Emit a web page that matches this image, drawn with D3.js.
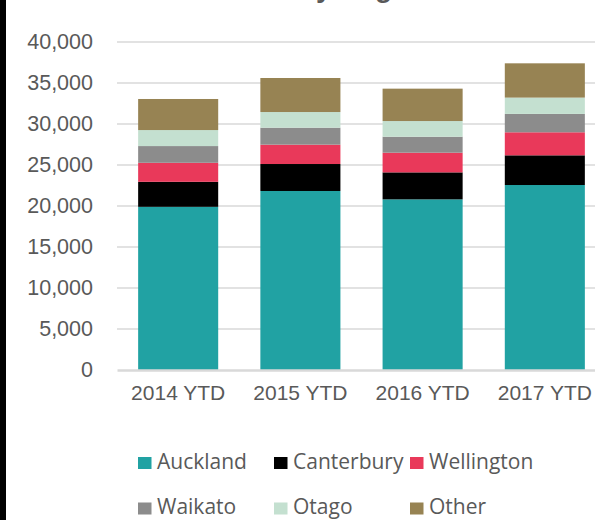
<!DOCTYPE html>
<html>
<head>
<meta charset="utf-8">
<script src="https://cdn.jsdelivr.net/npm/d3@7"></script>
<style>
    body { margin: 0; background: #fff; }
    svg { display: block; }
</style>
</head>
<body>
<svg id="chart" width="595" height="520"></svg>
<script>
// values (estimated)
const categories = ['2014 YTD', '2015 YTD', '2016 YTD', '2017 YTD'];
const auckland = [19900, 21830, 20810, 22560];
const canterbury = [3050, 3290, 3290, 3620];
const wellington = [2320, 2360, 2400, 2810];
const waikato = [2040, 2070, 1950, 2240];
const otago = [1950, 1910, 1910, 1990];
const other = [3790, 4150, 3950, 4180];

const seriesNames = ['Auckland', 'Canterbury', 'Wellington', 'Waikato', 'Otago', 'Other'];
const seriesColors = ['#21a2a3', '#000000', '#e9395a', '#8c8c8c', '#c4e0d0', '#978353'];
const yTicks = [0, 5000, 10000, 15000, 20000, 25000, 30000, 35000, 40000];

// table for d3.stack
const rows = categories.map(function(c, i) {
    return {
        cat: c,
        Auckland: auckland[i],
        Canterbury: canterbury[i],
        Wellington: wellington[i],
        Waikato: waikato[i],
        Otago: otago[i],
        Other: other[i]
    };
});

const svg = d3.select('#chart');

const x = d3.scaleBand()
    .domain(categories)
    .range([117, 606])
    .paddingInner(0.345)
    .paddingOuter(0.173);

const y = d3.scaleLinear()
    .domain([0, 40000])
    .range([370, 42]);

const color = d3.scaleOrdinal().domain(seriesNames).range(seriesColors);

// title, mostly cut off above the frame (as in the source)
svg.append('text')
    .attr('x', 303)
    .attr('y', -3)
    .attr('text-anchor', 'middle')
    .attr('font-family', 'Liberation Sans, Arial, sans-serif')
    .attr('font-weight', 'bold')
    .attr('font-size', 28)
    .attr('fill', '#595959')
    .text('Visitors by origin');

// gridlines
svg.append('g')
    .selectAll('line')
    .data(yTicks.filter(function(d) { return d > 0; }))
    .join('line')
    .attr('x1', 117)
    .attr('x2', 606)
    .attr('y1', function(d) { return y(d); })
    .attr('y2', function(d) { return y(d); })
    .attr('stroke', '#d9d9d9')
    .attr('stroke-width', 1.5);

// y axis labels
const yAxis = svg.append('g')
    .attr('transform', 'translate(93,0)')
    .call(d3.axisLeft(y).tickValues(yTicks).tickSize(0).tickPadding(0).tickFormat(d3.format(',')));
yAxis.select('.domain').remove();
yAxis.selectAll('text')
    .attr('font-family', 'Liberation Sans, Arial, sans-serif')
    .attr('font-size', 21.5)
    .attr('fill', '#595959');

// stacked bars
const stacked = d3.stack().keys(seriesNames)(rows);

svg.append('g')
    .selectAll('g')
    .data(stacked)
    .join('g')
    .attr('fill', function(d) { return color(d.key); })
    .selectAll('rect')
    .data(function(d) { return d; })
    .join('rect')
    .attr('x', function(d) { return x(d.data.cat); })
    .attr('y', function(d) { return y(d[1]); })
    .attr('width', x.bandwidth())
    .attr('height', function(d) { return y(d[0]) - y(d[1]); });

// x axis
const xAxis = svg.append('g')
    .attr('transform', 'translate(0,370)')
    .call(d3.axisBottom(x).tickSize(0).tickPadding(15));
xAxis.select('.domain')
    .attr('stroke', '#d9d9d9')
    .attr('stroke-width', 2.5);
xAxis.selectAll('text')
    .attr('font-family', 'Liberation Sans, Arial, sans-serif')
    .attr('font-size', 21)
    .attr('fill', '#595959');

// legend
const legendPos = [
    [138, 468.5], [274, 468.5], [410, 468.5],
    [138, 514], [274, 514], [410, 514]
];
const legend = svg.append('g')
    .selectAll('g')
    .data(seriesNames)
    .join('g')
    .attr('transform', function(d, i) { return 'translate(' + legendPos[i][0] + ',' + legendPos[i][1] + ')'; });
legend.append('rect')
    .attr('x', 0)
    .attr('y', -11.5)
    .attr('width', 13.5)
    .attr('height', 12)
    .attr('fill', function(d) { return color(d); });
legend.append('text')
    .attr('x', 19)
    .attr('y', 0)
    .attr('font-family', 'Open Sans, sans-serif')
    .attr('font-size', 21)
    .attr('fill', '#595959')
    .text(function(d) { return d; });

// black strip on the left edge
svg.append('rect')
    .attr('x', 0)
    .attr('y', 0)
    .attr('width', 6)
    .attr('height', 520)
    .attr('fill', '#000');
</script>
</body>
</html>
